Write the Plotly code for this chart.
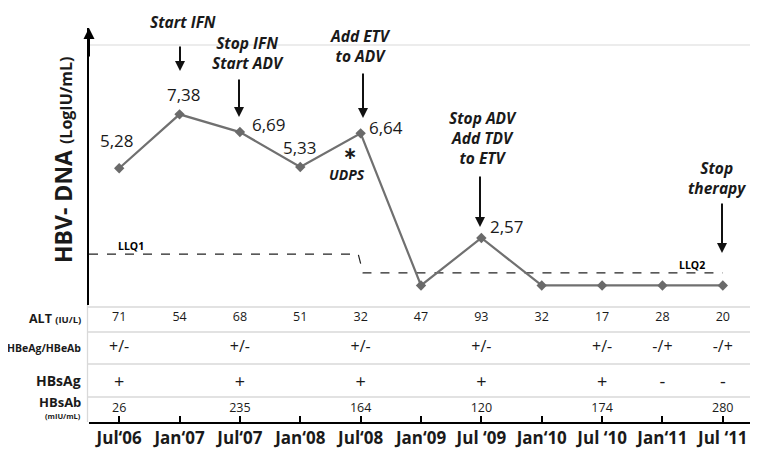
import plotly.graph_objects as go

# ---------------- data ----------------
months = ["Jul‘06", "Jan‘07", "Jul‘07", "Jan‘08", "Jul‘08", "Jan‘09",
          "Jul ‘09", "Jan‘10", "Jul ‘10", "Jan‘11", "Jul ‘11"]
hbv_dna = [5.28, 7.38, 6.69, 5.33, 6.64, 0.72, 2.57, 0.72, 0.72, 0.72, 0.72]
hbv_label = ["5,28", "7,38", "6,69", "5,33", "6,64", "", "2,57", "", "", "", ""]
llq_x = [-0.5, 3.96, 4.04, 10.0]
llq_y = [1.94, 1.94, 1.21, 1.21]

alt = ["71", "54", "68", "51", "32", "47", "93", "32", "17", "28", "20"]
hbeag = ["+/-", "", "+/-", "", "+/-", "", "+/-", "", "+/-", "-/+", "-/+"]
hbsag = ["+", "", "+", "", "+", "", "+", "", "+", "-", "-"]
hbsab = ["26", "", "235", "", "164", "", "120", "", "174", "", "280"]

treatments = ["Start IFN", "Stop IFN<br>Start ADV", "Add ETV<br>to ADV",
              "Stop ADV<br>Add TDV<br>to ETV", "Stop<br>therapy"]

# ---------------- layout helpers ----------------
# page has an 8px body margin, so the figure is 8px smaller and offset
OFF = 8
W, H = 758 - OFF, 452 - OFF
ML, MR, MT, MB = 89 - OFF, 5, 28 - OFF, 30
PW, PH = W - ML - MR, H - MT - MB


def px(p):
    # page pixel x -> paper fraction
    return (p - OFF - ML) / PW


def py(p):
    # page pixel y -> paper fraction
    return (H - MB - (p - OFF)) / PH


FONT = "Open Sans"
TXT = "#1a1a1a"
GRID = "#d9d9d9"
xs = list(range(len(months)))

fig = go.Figure()

# LLQ dashed line
fig.add_trace(go.Scatter(x=llq_x, y=llq_y, mode="lines",
                         line=dict(color="#222222", width=1.2, dash="dash"),
                         hoverinfo="skip", xaxis="x", yaxis="y"))
# HBV-DNA series
fig.add_trace(go.Scatter(x=xs, y=hbv_dna, mode="lines+markers",
                         line=dict(color="#707070", width=2.2),
                         marker=dict(symbol="diamond", size=8, color="#6a6a6a"),
                         xaxis="x", yaxis="y"))

# table rows (y2 is in pixels below the table top)
row_y = {"alt": 13, "hbeag": 43, "hbsag": 78, "hbsab": 104}
fig.add_trace(go.Scatter(x=xs, y=[row_y["alt"]] * len(xs), text=alt, mode="text",
                         textfont=dict(family=FONT, size=12.5, color=TXT),
                         xaxis="x", yaxis="y2"))
fig.add_trace(go.Scatter(x=xs, y=[row_y["hbeag"]] * len(xs), text=hbeag, mode="text",
                         textfont=dict(family=FONT, size=16, color=TXT),
                         xaxis="x", yaxis="y2"))
fig.add_trace(go.Scatter(x=xs, y=[row_y["hbsag"]] * len(xs), text=hbsag, mode="text",
                         textfont=dict(family=FONT, size=18, color=TXT),
                         xaxis="x", yaxis="y2"))
fig.add_trace(go.Scatter(x=xs, y=[row_y["hbsab"]] * len(xs), text=hbsab, mode="text",
                         textfont=dict(family=FONT, size=12.5, color=TXT),
                         xaxis="x", yaxis="y2"))

ann = []
# value labels
label_shift = [(-2, 28), (4, 20), (29, 8), (0, 20), (25, 6), (0, 0), (26, 11),
               (0, 0), (0, 0), (0, 0), (0, 0)]
for i, (v, lab) in enumerate(zip(hbv_dna, hbv_label)):
    if lab:
        dx, dy = label_shift[i]
        ann.append(dict(x=i, y=v, xref="x", yref="y", text=lab, showarrow=False,
                        xshift=dx, yshift=dy,
                        font=dict(family=FONT, size=17, color=TXT)))

# treatment texts and arrows
tpos = [(183, 22), (248, 52.5), (360, 46), (483, 137.5), (717, 178)]
arrows = [(180, 45, 71), (239, 78, 117), (363, 72, 118), (480, 175, 227), (722, 202, 253)]
for t, (cx, cy) in zip(treatments, tpos):
    ann.append(dict(x=px(cx), y=py(cy), xref="paper", yref="paper", text="<b><i>%s</i></b>" % t,
                    showarrow=False, xanchor="center", yanchor="middle",
                    font=dict(family=FONT, size=15.5, color=TXT)))
for ax_, tail, tip in arrows:
    ann.append(dict(x=px(ax_), y=py(tip), xref="paper", yref="paper", text="",
                    showarrow=True, ax=0, ay=-(tip - tail), arrowhead=2, arrowsize=1,
                    arrowwidth=2, arrowcolor="#111111", standoff=0))

# asterisk + UDPS
ann.append(dict(x=px(350), y=py(153), xref="paper", yref="paper", text="<b>∗</b>",
                showarrow=False, yanchor="middle",
                font=dict(family="DejaVu Sans", size=17, color=TXT)))
ann.append(dict(x=px(347), y=py(174), xref="paper", yref="paper", text="<b><i>UDPS</i></b>",
                showarrow=False, yanchor="middle", font=dict(family=FONT, size=14, color=TXT)))

# LLQ labels
ann.append(dict(x=px(116), y=py(246), xref="paper", yref="paper", text="<b>LLQ1</b>",
                showarrow=False, yanchor="middle", font=dict(family=FONT, size=10.5, color="#000000")))
ann.append(dict(x=px(707), y=py(265), xref="paper", yref="paper", text="<b>LLQ2</b>",
                showarrow=False, yanchor="middle", font=dict(family=FONT, size=10.5, color="#000000")))

# y axis arrow head
ann.append(dict(x=0, y=1, xref="paper", yref="paper", text="", showarrow=True,
                ax=0, ay=30, arrowhead=2, arrowsize=1.1, arrowwidth=2,
                arrowcolor="#000000", standoff=0))

# y title
ann.append(dict(x=px(45), y=py(160), xref="paper", yref="paper", textangle=-90,
                text="<b>HBV- DNA</b> <b><span style='font-size:16px'>(LogIU/mL)</span></b>",
                showarrow=False, font=dict(family=FONT, size=23, color=TXT)))

# row labels
rl = [("<b>ALT</b> <b><span style='font-size:9.5px'>(IU/L)</span></b>", 318, 12.5),
      ("<b>HBeAg/HBeAb</b>", 348, 10.5),
      ("<b>HBsAg</b>", 380, 14),
      ("<b>HBsAb</b>", 402, 13),
      ("<b>(mIU/mL)</b>", 416, 7.5)]
for t, yy, fs in rl:
    ann.append(dict(x=px(83), y=py(yy), xref="paper", yref="paper", text=t,
                    showarrow=False, xanchor="right", yanchor="middle",
                    font=dict(family=FONT, size=fs, color=TXT)))

shapes = []
# table grid lines
for yy in [2, 27, 59, 92]:
    shapes.append(dict(type="line", xref="paper", yref="y2", x0=px(87), x1=1, y0=yy, y1=yy,
                       line=dict(color=GRID, width=1.3)))
# left border of table
shapes.append(dict(type="line", xref="paper", yref="paper", x0=px(87.5), x1=px(87.5),
                   y0=0, y1=py(305), line=dict(color=GRID, width=1.3)))
# right and top frame
shapes.append(dict(type="line", xref="paper", yref="paper", x0=1, x1=1,
                   y0=0, y1=py(45), line=dict(color=GRID, width=1.3)))
shapes.append(dict(type="line", xref="paper", yref="paper", x0=0, x1=1,
                   y0=py(45), y1=py(45), line=dict(color="#e6e6e6", width=1.3)))

fig.update_layout(
    width=W, height=H, margin=dict(l=ML, r=MR, t=MT, b=MB),
    paper_bgcolor="white", plot_bgcolor="white", showlegend=False,
    font=dict(family=FONT, color=TXT),
    xaxis=dict(range=[-0.5, 10.5], anchor="y2", tickmode="array", tickvals=xs,
               ticktext=["<b>%s</b>" % m for m in months],
               tickfont=dict(family=FONT, size=17, color=TXT),
               showline=True, linecolor="black", linewidth=2,
               ticks="inside", ticklen=6, tickwidth=2, tickcolor="black",
               showgrid=False, zeroline=False, automargin=False),
    yaxis=dict(domain=[py(305), 1], range=[-0.04, 10.74], showline=True,
               linecolor="black", linewidth=2, showticklabels=False, ticks="",
               showgrid=False, zeroline=False, anchor="x"),
    yaxis2=dict(domain=[0, py(305)], range=[117, 0], showline=False,
                showticklabels=False, ticks="", showgrid=False, zeroline=False,
                anchor="x"),
    annotations=ann, shapes=shapes,
)

fig.write_html("out.html")
